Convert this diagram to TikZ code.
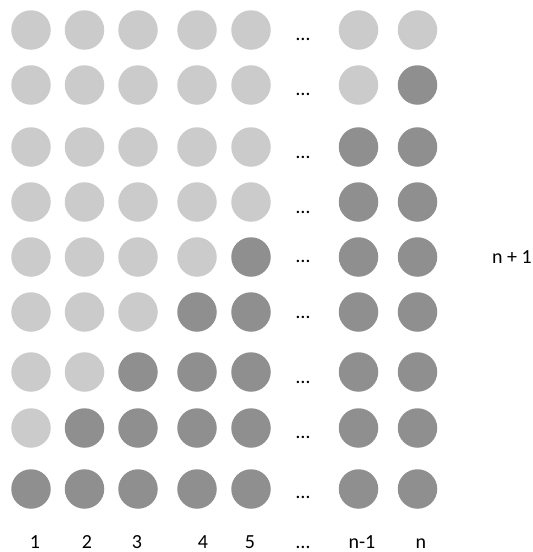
\documentclass[tikz,border=0pt]{standalone}
\usepackage{fontspec}
\setmainfont{Carlito}
\usepackage{xcolor}
\usepackage{tikz}
\definecolor{lightdot}{HTML}{CBCBCB}
\definecolor{darkdot}{HTML}{8F8F8F}
\tikzset{every node/.append style={font=\fontsize{20}{24}\selectfont}}
\tikzset{
  dot/.style={circle, minimum size=39.5pt, inner sep=0pt, draw=none},
  label/.style={anchor=base}
}

\begin{document}
\begin{tikzpicture}[x=1pt, y=-1pt]
    \useasboundingbox (0,0) rectangle (533,552);
    % rows: y of the row / y of its dots / how many dark ones
    \foreach \r/\y/\ey/\k in {1/30/40/0, 2/85/95/1, 3/147/158/2, 4/202/213/2,
                              5/257/262/3, 6/312/318/4, 7/372/383/5, 8/428/438/6, 9/489/498/7} {
        \foreach \c/\x in {1/31, 2/84.5, 3/138, 4/197, 5/251, 6/358.5, 7/417.5} {
            \pgfmathtruncatemacro{\isdark}{\c > 7-\k ? 1 : 0}
            \ifnum\isdark=1
                \node[dot, fill=darkdot] (c\r-\c) at (\x,\y) {};
            \else
                \node[dot, fill=lightdot] (c\r-\c) at (\x,\y) {};
            \fi
        }
        \node[label] (e\r) at (303,\ey) {\dots};
    }
    % column numbers
    \node[label] (n1) at (35,548) {1};
    \node[label] (n2) at (87,548) {2};
    \node[label] (n3) at (137,548) {3};
    \node[label] (n4) at (203,548) {4};
    \node[label] (n5) at (250,548) {5};
    \node[label] (ndots) at (303,548) {\dots};
    \node[label] (nm1) at (362,548) {n-1};
    \node[label] (nn) at (421,548) {n};
    % side label
    \node[label] (np1) at (512,263) {n + 1};
\end{tikzpicture}
\end{document}
